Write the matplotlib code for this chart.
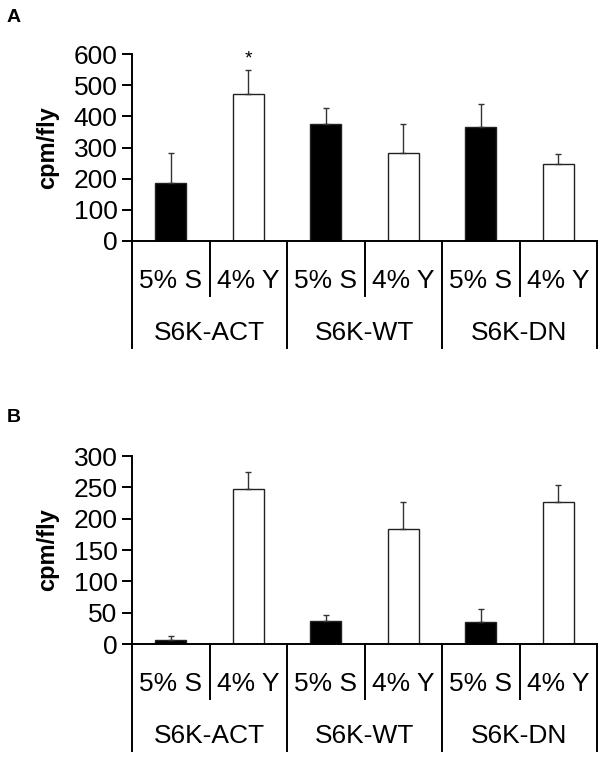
import numpy as np
import matplotlib.pyplot as plt
from matplotlib.transforms import blended_transform_factory

plt.rcParams['font.family'] = ['Liberation Sans', 'DejaVu Sans']

diets = ['5% S', '4% Y', '5% S', '4% Y', '5% S', '4% Y']
groups = ['S6K-ACT', 'S6K-WT', 'S6K-DN']

# panel A
a_vals = [185, 472, 375, 283, 366, 246]
a_err = [98, 76, 51, 94, 73, 32]
# panel B
b_vals = [7, 247, 37, 184, 35, 226]
b_err = [5, 27, 9, 42, 21, 28]

colors = ['black', 'white'] * 3

fig = plt.figure(figsize=(6.04, 7.58), dpi=100)
W, H = 604, 758


def make_panel(rect_px, vals, errs, ymax, ystep, letter, letter_xy, star=None):
    x0, ytop, x1, ybot = rect_px
    ax = fig.add_axes([x0 / W, 1 - ybot / H, (x1 - x0) / W, (ybot - ytop) / H])
    hpx = ybot - ytop
    x = np.arange(len(vals))
    ax.bar(x, vals, width=0.4, color=colors, edgecolor='#222222', linewidth=1.0, zorder=2)
    ax.errorbar(x, vals, yerr=[np.zeros(len(errs)), errs], fmt='none',
                ecolor='#333333', elinewidth=1.0, capsize=2.5, capthick=1.0, zorder=3)
    ax.set_xlim(-0.5, len(vals) - 0.5)
    ax.set_ylim(0, ymax)
    ax.set_yticks(np.arange(0, ymax + 1, ystep))
    ax.tick_params(axis='y', direction='out', length=7.5, width=1.4, labelsize=19, pad=3)
    ax.set_xticks([])
    for s in ['top', 'right']:
        ax.spines[s].set_visible(False)
    ax.spines['left'].set_linewidth(1.4)
    ax.spines['bottom'].set_linewidth(1.4)
    ax.set_ylabel('cpm/fly', fontsize=17, fontweight='bold', labelpad=10)

    tr = blended_transform_factory(ax.transData, ax.transAxes)
    small = -55 / hpx
    big = -107 / hpx
    # separators
    for i in range(len(vals) + 1):
        b = i - 0.5
        yend = big if i % 2 == 0 else small
        ax.plot([b, b], [0, yend], color='black', lw=1.4, transform=tr, clip_on=False)
    for i, lab in enumerate(diets):
        ax.text(i, -40 / hpx, lab, transform=tr, ha='center', va='center', fontsize=19)
    for g, lab in enumerate(groups):
        ax.text(2 * g + 0.5, -92 / hpx, lab, transform=tr, ha='center', va='center', fontsize=19)

    fig.text(letter_xy[0] / W, 1 - letter_xy[1] / H, letter, fontsize=14,
             fontweight='bold', ha='left', va='center')
    if star is not None:
        ax.text(star, vals[star] + errs[star] + 36 * ymax / 600, '*', ha='center',
                va='center', fontsize=14)
    return ax


make_panel((132, 54, 597, 241), a_vals, a_err, 600, 100, 'A', (7, 17), star=1)
make_panel((132, 456, 597, 644), b_vals, b_err, 300, 50, 'B', (7, 417))

fig.savefig('out.png', dpi=100)
